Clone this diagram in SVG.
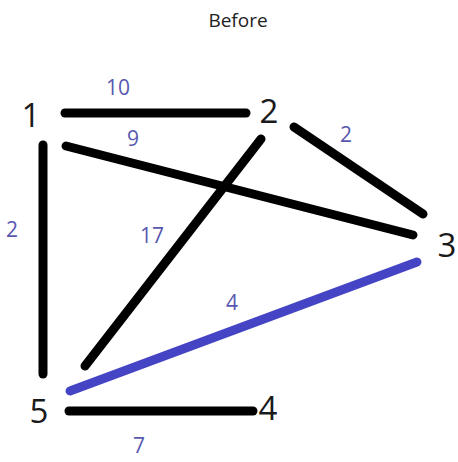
<svg xmlns="http://www.w3.org/2000/svg" width="458" height="462" viewBox="0 0 458 462">
<style>
.e{stroke:#000;stroke-width:9;stroke-linecap:round;fill:none}
.b{stroke:#4444c4;stroke-width:9;stroke-linecap:round;fill:none}
.n{font-family:"Open Sans","DejaVu Sans",sans-serif;font-size:33px;fill:#1a1a1a;text-anchor:middle}
.w{font-family:"Open Sans","DejaVu Sans",sans-serif;font-size:21px;fill:#5858b0;text-anchor:middle}
.t{font-family:"Open Sans","DejaVu Sans",sans-serif;font-size:19px;fill:#222;text-anchor:middle}
</style>
<rect width="458" height="462" fill="#fff"/>
<text class="t" x="238" y="27">Before</text>
<g id="connectors">
<line class="e" x1="65" y1="113" x2="246" y2="113"/>
<line class="e" x1="66" y1="146" x2="413" y2="235"/>
<line class="e" x1="43" y1="145" x2="43" y2="374"/>
<line class="e" x1="261" y1="139" x2="85" y2="366"/>
<line class="e" x1="294" y1="127" x2="423" y2="214"/>
<line class="b" x1="417" y1="262" x2="70" y2="391"/>
<line class="e" x1="69" y1="411" x2="253" y2="411"/>
<text class="w" x="118" y="95">10</text>
<text class="w" x="133" y="146">9</text>
<text class="w" x="346" y="142">2</text>
<text class="w" x="12" y="237">2</text>
<text class="w" x="152" y="243">17</text>
<text class="w" x="232" y="310">4</text>
<text class="w" x="139" y="453">7</text>
</g>
<g id="n1"><text class="n" x="31" y="127">1</text></g>
<g id="n2"><text class="n" x="269" y="123">2</text></g>
<g id="n3"><text class="n" x="447" y="257">3</text></g>
<g id="n4"><text class="n" x="268" y="420">4</text></g>
<g id="n5"><text class="n" x="39" y="423">5</text></g>
</svg>
